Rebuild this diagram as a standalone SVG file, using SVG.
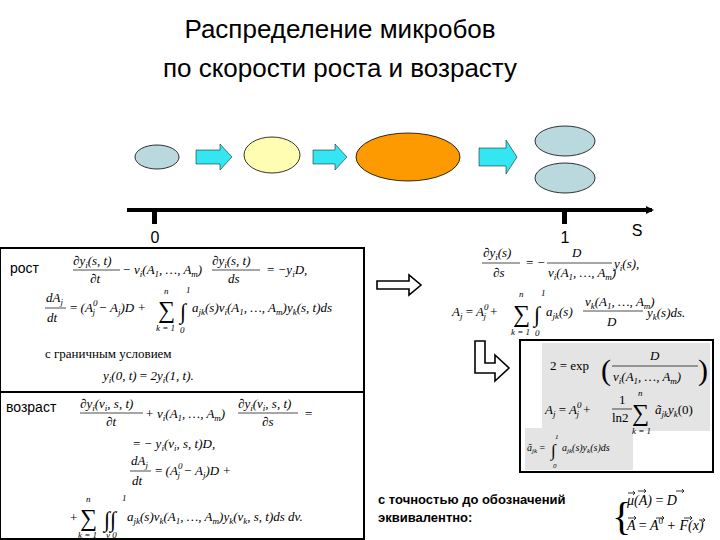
<svg xmlns="http://www.w3.org/2000/svg" width="720" height="540" viewBox="0 0 720 540" font-size="13">
<defs>
<style>
.t{font-family:"Liberation Sans",Arial,sans-serif;fill:#000}
.m{font-family:"Liberation Serif","Times New Roman",serif;font-style:italic;fill:#000}
.r{font-style:normal}
.cell{stroke:#000;stroke-width:0.8}
.blue{fill:#b9d9df}
.cy{fill:#33e6f2;stroke:#000;stroke-width:0.5}
.hol{fill:#fff;stroke:#000;stroke-width:1.6}
.fl{stroke:#000;stroke-width:0.7}
</style>
<marker id="ax" markerWidth="8" markerHeight="8" refX="6" refY="4" orient="auto" markerUnits="userSpaceOnUse"><path d="M0,0 L8,4 L0,8z"/></marker>
</defs>
<rect width="720" height="540" fill="#fff"/>
<text class="t" x="340" y="38" font-size="26" text-anchor="middle">Распределение микробов</text>
<text class="t" x="340" y="77" font-size="26" text-anchor="middle">по скорости роста и возрасту</text>

<g id="cell1"><ellipse class="cell blue" cx="157" cy="157" rx="22" ry="12"/></g>
<g id="cell2"><ellipse class="cell" cx="272" cy="155" rx="28" ry="18" fill="#fefdb1"/></g>
<g id="cell3"><ellipse class="cell" cx="408" cy="157" rx="52" ry="24" fill="#fd9a01"/></g>
<g id="cell4"><ellipse class="cell blue" cx="565" cy="141" rx="30" ry="15"/><ellipse class="cell blue" cx="565" cy="178" rx="30" ry="15"/></g>
<g id="connectors">
<path class="cy" d="M196,150 h24 v-6 l12,13 l-12,13 v-6 h-24z"/>
<path class="cy" d="M313,150 h22 v-6 l12,13 l-12,13 v-6 h-22z"/>
<path class="cy" d="M479,148 h27 v-8 l11,17 l-11,17 v-8 h-27z"/>
<line x1="127" y1="210" x2="652" y2="210" stroke="#000" stroke-width="4" marker-end="url(#ax)"/>
<path class="hol" d="M377,281 h32 v-6 l12,10 l-12,10 v-6 h-32z"/>
<path class="hol" d="M475,341 h10 v22 h10 v-8 l14,13 l-14,13 v-8 h-20z"/>
</g>
<rect x="152" y="210" width="5" height="14"/><rect x="562" y="210" width="5" height="14"/>
<text class="t" x="155" y="243" font-size="16" text-anchor="middle">0</text>
<text class="t" x="565" y="243" font-size="16" text-anchor="middle">1</text>
<text class="t" x="637" y="236" font-size="16" text-anchor="middle">S</text>

<g id="growth">
<rect x="0" y="248" width="364" height="146" fill="#fff" stroke="#000" stroke-width="2"/>
<text class="t" x="10" y="273" font-size="14">рост</text>
<text class="m" x="73" y="265">∂y<tspan font-size="9" dy="3">i</tspan><tspan dy="-3">(s, t)</tspan></text>
<line class="fl" x1="73" y1="270" x2="120" y2="270"/>
<text class="m" x="90" y="283">∂t</text>
<text class="m" x="122" y="274">− v<tspan font-size="9" dy="3">i</tspan><tspan dy="-3">(A</tspan><tspan font-size="9" dy="3">1</tspan><tspan dy="-3">, …, A</tspan><tspan font-size="9" dy="3">m</tspan><tspan dy="-3">)</tspan></text>
<text class="m" x="212" y="265">∂y<tspan font-size="9" dy="3">i</tspan><tspan dy="-3">(s, t)</tspan></text>
<line class="fl" x1="212" y1="270" x2="260" y2="270"/>
<text class="m" x="228" y="283">ds</text>
<text class="m" x="267" y="274"><tspan class="r">=</tspan>  −y<tspan font-size="9" dy="3">i</tspan><tspan dy="-3">D,</tspan></text>
<text class="m" x="46" y="302">dA<tspan font-size="9" dy="3">j</tspan></text>
<line class="fl" x1="45" y1="308" x2="66" y2="308"/>
<text class="m" x="47" y="322">dt</text>
<text class="m" x="70" y="312"><tspan class="r">=</tspan> (A<tspan font-size="9" dy="-6">0</tspan><tspan font-size="9" dx="-5" dy="9">j</tspan><tspan dy="-3"> − A</tspan><tspan font-size="9" dy="3">j</tspan><tspan dy="-3">)D +</tspan></text>
<text class="m r" x="158" y="318" font-size="24">∑</text>
<text class="m" x="164" y="294" font-size="9">n</text>
<text class="m" x="156" y="331" font-size="9">k = 1</text>
<text class="m r" x="180" y="319" font-size="22">∫</text>
<text class="m" x="186" y="293" font-size="9">1</text><text class="m" x="180" y="333" font-size="9">0</text>
<text class="m" x="192" y="312">a<tspan font-size="9" dy="3">jk</tspan><tspan dy="-3">(s)v</tspan><tspan font-size="9" dy="3">i</tspan><tspan dy="-3">(A</tspan><tspan font-size="9" dy="3">1</tspan><tspan dy="-3">, …, A</tspan><tspan font-size="9" dy="3">m</tspan><tspan dy="-3">)y</tspan><tspan font-size="9" dy="3">k</tspan><tspan dy="-3">(s, t)ds</tspan></text>
<text class="m r" x="45" y="358">с граничным условием</text>
<text class="m" x="103" y="380">y<tspan font-size="9" dy="3">i</tspan><tspan dy="-3">(0, t)  <tspan class="r">=</tspan>  2y</tspan><tspan font-size="9" dy="3">i</tspan><tspan dy="-3">(1, t).</tspan></text>
</g>

<g id="age">
<rect x="0" y="392" width="364" height="147" fill="#fff" stroke="#000" stroke-width="2"/>
<text class="t" x="6" y="412" font-size="14">возраст</text>
<text class="m" x="80" y="408">∂y<tspan font-size="9" dy="3">i</tspan><tspan dy="-3">(v</tspan><tspan font-size="9" dy="3">i</tspan><tspan dy="-3">, s, t)</tspan></text>
<line class="fl" x1="80" y1="413" x2="143" y2="413"/>
<text class="m" x="106" y="426">∂t</text>
<text class="m" x="145" y="418">+ v<tspan font-size="9" dy="3">i</tspan><tspan dy="-3">(A</tspan><tspan font-size="9" dy="3">1</tspan><tspan dy="-3">, …, A</tspan><tspan font-size="9" dy="3">m</tspan><tspan dy="-3">)</tspan></text>
<text class="m" x="238" y="408">∂y<tspan font-size="9" dy="3">i</tspan><tspan dy="-3">(v</tspan><tspan font-size="9" dy="3">i</tspan><tspan dy="-3">, s, t)</tspan></text>
<line class="fl" x1="238" y1="413" x2="298" y2="413"/>
<text class="m" x="262" y="426">∂s</text>
<text class="m r" x="305" y="418">=</text>
<text class="m" x="133" y="448"><tspan class="r">=</tspan>  − y<tspan font-size="9" dy="3">i</tspan><tspan dy="-3">(v</tspan><tspan font-size="9" dy="3">i</tspan><tspan dy="-3">, s, t)D,</tspan></text>
<text class="m" x="131" y="465">dA<tspan font-size="9" dy="3">j</tspan></text>
<line class="fl" x1="130" y1="471" x2="151" y2="471"/>
<text class="m" x="132" y="485">dt</text>
<text class="m" x="155" y="475"><tspan class="r">=</tspan>  (A<tspan font-size="9" dy="-6">0</tspan><tspan font-size="9" dx="-5" dy="9">j</tspan><tspan dy="-3"> − A</tspan><tspan font-size="9" dy="3">j</tspan><tspan dy="-3">)D +</tspan></text>
<text class="m r" x="70" y="522">+</text>
<text class="m r" x="80" y="526" font-size="24">∑</text>
<text class="m" x="86" y="502" font-size="9">n</text>
<text class="m" x="78" y="538" font-size="9">k = 1</text>
<text class="m r" x="104" y="527" font-size="22">∫∫</text>
<text class="m" x="122" y="501" font-size="9">1</text><text class="m" x="106" y="538" font-size="9">v 0</text>
<text class="m" x="127" y="521">a<tspan font-size="9" dy="3">jk</tspan><tspan dy="-3">(s)v</tspan><tspan font-size="9" dy="3">k</tspan><tspan dy="-3">(A</tspan><tspan font-size="9" dy="3">1</tspan><tspan dy="-3">, …, A</tspan><tspan font-size="9" dy="3">m</tspan><tspan dy="-3">)y</tspan><tspan font-size="9" dy="3">k</tspan><tspan dy="-3">(v</tspan><tspan font-size="9" dy="3">k</tspan><tspan dy="-3">, s, t)ds dv.</tspan></text>
</g>

<g id="stationary">
<text class="m" x="483" y="257">∂y<tspan font-size="9" dy="3">i</tspan><tspan dy="-3">(s)</tspan></text>
<line class="fl" x1="482" y1="263" x2="520" y2="263"/>
<text class="m" x="493" y="277">∂s</text>
<text class="m" x="526" y="267"><tspan class="r">=</tspan>  −</text>
<text class="m" x="572" y="257">D</text>
<line class="fl" x1="547" y1="263" x2="612" y2="263"/>
<text class="m" x="548" y="277">v<tspan font-size="9" dy="3">i</tspan><tspan dy="-3">(A</tspan><tspan font-size="9" dy="3">1</tspan><tspan dy="-3">, …, A</tspan><tspan font-size="9" dy="3">m</tspan><tspan dy="-3">)</tspan></text>
<text class="m" x="614" y="268">y<tspan font-size="9" dy="3">i</tspan><tspan dy="-3">(s),</tspan></text>
<text class="m" x="452" y="316">A<tspan font-size="9" dy="3">j</tspan><tspan dy="-3"> <tspan class="r">=</tspan>  A</tspan><tspan font-size="9" dy="-6">0</tspan><tspan font-size="9" dx="-5" dy="9">j</tspan><tspan dy="-3"> +</tspan></text>
<text class="m r" x="513" y="322" font-size="24">∑</text>
<text class="m" x="519" y="297" font-size="9">n</text>
<text class="m" x="511" y="335" font-size="9">k = 1</text>
<text class="m r" x="534" y="322" font-size="22">∫</text>
<text class="m" x="541" y="296" font-size="9">1</text><text class="m" x="535" y="336" font-size="9">0</text>
<text class="m" x="546" y="316">a<tspan font-size="9" dy="3">jk</tspan><tspan dy="-3">(s)</tspan></text>
<text class="m" x="585" y="306">v<tspan font-size="9" dy="3">k</tspan><tspan dy="-3">(A</tspan><tspan font-size="9" dy="3">1</tspan><tspan dy="-3">, …, A</tspan><tspan font-size="9" dy="3">m</tspan><tspan dy="-3">)</tspan></text>
<line class="fl" x1="583" y1="311" x2="643" y2="311"/>
<text class="m" x="607" y="326">D</text>
<text class="m" x="647" y="317">y<tspan font-size="9" dy="3">k</tspan><tspan dy="-3">(s)ds.</tspan></text>
</g>

<g id="result">
<rect x="520" y="340" width="193" height="132" fill="#fff" stroke="#000" stroke-width="2"/>
<rect x="542" y="343" width="168" height="88" fill="#e4e4e4"/>
<rect x="525" y="428" width="108" height="42" fill="#e4e4e4"/>
<text class="m r" x="550" y="370">2  =  exp</text>
<text class="m r" x="601" y="380" font-size="30">(</text>
<text class="m" x="650" y="360">D</text>
<line class="fl" x1="612" y1="366" x2="698" y2="366"/>
<text class="m" x="613" y="381">v<tspan font-size="9" dy="3">i</tspan><tspan dy="-3">(A</tspan><tspan font-size="9" dy="3">1</tspan><tspan dy="-3">, …, A</tspan><tspan font-size="9" dy="3">m</tspan><tspan dy="-3">)</tspan></text>
<text class="m r" x="698" y="380" font-size="30">)</text>
<text class="m" x="545" y="414">A<tspan font-size="9" dy="3">j</tspan><tspan dy="-3">  <tspan class="r">=</tspan>  A</tspan><tspan font-size="9" dy="-6">0</tspan><tspan font-size="9" dx="-5" dy="9">j</tspan><tspan dy="-3"> +</tspan></text>
<text class="m r" x="619" y="404">1</text>
<line class="fl" x1="612" y1="409" x2="632" y2="409"/>
<text class="m r" x="612" y="422">ln2</text>
<text class="m r" x="632" y="421" font-size="24">∑</text>
<text class="m" x="638" y="396" font-size="9">n</text>
<text class="m" x="632" y="434" font-size="9">k = 1</text>
<text class="m" x="655" y="414">ã<tspan font-size="9" dy="3">jk</tspan><tspan dy="-3">y</tspan><tspan font-size="9" dy="3">k</tspan><tspan dy="-3" class="r">(0)</tspan></text>
<text class="m" x="527" y="451" font-size="10">ã<tspan font-size="7" dy="2">jk</tspan><tspan dy="-2" class="r"> =</tspan></text>
<text class="m r" x="551" y="456" font-size="17">∫</text>
<text class="m" x="555" y="439" font-size="7">1</text><text class="m" x="553" y="468" font-size="7">0</text>
<text class="m" x="562" y="451" font-size="10">a<tspan font-size="7" dy="2">jk</tspan><tspan dy="-2">(s)y</tspan><tspan font-size="7" dy="2">k</tspan><tspan dy="-2">(s)ds</tspan></text>
</g>

<g id="note">
<text class="t" x="378" y="504" font-size="13" font-weight="bold">с точностью до обозначений</text>
<text class="t" x="378" y="522" font-size="13" font-weight="bold">эквивалентно:</text>
<text class="m r" x="612" y="530" font-size="40">{</text>
<text class="m" x="627" y="505" font-size="14">μ(A)  <tspan class="r">=</tspan> D</text>
<text class="m" x="627" y="530" font-size="14">A <tspan class="r">=</tspan> A<tspan font-size="9" dy="-6" class="r">0</tspan><tspan dy="6"> + F(x)</tspan></text>
<g stroke="#000" stroke-width="0.8" fill="none">
<path d="M628,493 h7 M633,491 l2,2 l-2,2"/>
<path d="M638,491 h8 M644,489 l2,2 l-2,2"/>
<path d="M676,491 h8 M682,489 l2,2 l-2,2"/>
<path d="M628,518 h8 M634,516 l2,2 l-2,2"/>
<path d="M656,518 h8 M662,516 l2,2 l-2,2"/>
<path d="M684,518 h8 M690,516 l2,2 l-2,2"/>
<path d="M699,520 h6 M703,518 l2,2 l-2,2"/>
</g>
</g>
</svg>
